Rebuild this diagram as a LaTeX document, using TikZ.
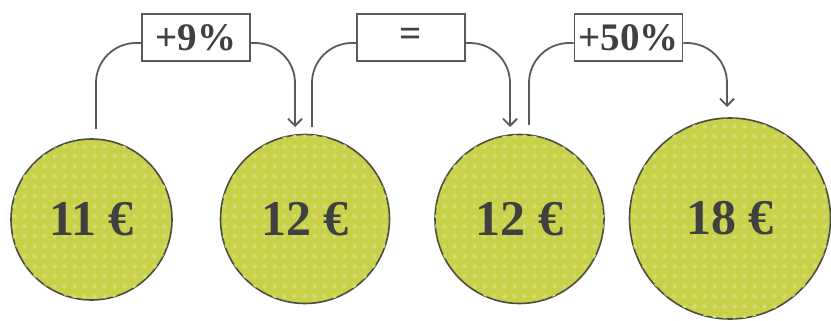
\documentclass[tikz,border=0pt]{standalone}
\usepackage{fontspec}
\setmainfont{Liberation Serif}
\usetikzlibrary{arrows.meta,patterns.meta}
\definecolor{coin}{HTML}{C8D149}
\definecolor{coindot}{HTML}{D4DB70}
\definecolor{coinedge}{HTML}{4B4D42}
\definecolor{ink}{HTML}{404040}
\definecolor{wire}{HTML}{565B60}
\tikzdeclarepattern{
  name=bigdots,
  type=uncolored,
  bounding box={(0pt,0pt) and (10pt,10pt)},
  tile size={(10pt,10pt)},
  code={\fill (5pt,5pt) circle (2.4pt);}
}
\begin{document}
\begin{tikzpicture}[x=1pt,y=-1pt,
  coinnode/.style={circle, draw=coinedge, line width=1.6pt, fill=coin,
    postaction={pattern=bigdots, pattern color=coindot},
    inner sep=0pt, text=ink, font=\fontsize{50}{60}\selectfont\bfseries},
  ratebox/.style={draw=wire, line width=1.6pt, fill=white, minimum width=108pt,
    minimum height=47pt, inner sep=0pt, text=ink, font=\fontsize{39}{44}\selectfont\bfseries},
  link/.style={draw=wire, line width=1.8pt, rounded corners=40pt},
  linkarrow/.style={link, -{Straight Barb[length=7pt,width=14pt,line width=1.8pt]}}
]
\useasboundingbox (0,0) rectangle (831,321);

\node[coinnode, minimum size=161pt] (c1) at (91.5,219.5) {11 €};
\node[coinnode, minimum size=169pt] (c2) at (305,219) {12 €};
\node[coinnode, minimum size=169pt] (c3) at (519.5,219) {12 €};
\node[coinnode, minimum size=201pt] (c4) at (730,218.5) {18 €};

\node[ratebox] (b1) at (196,37.5) {+9\%};
\node[ratebox] (b2) at (411,37.5) {=};
\node[ratebox] (b3) at (628.5,37.5) {+50\%};

\coordinate (s1) at (96,129);
\coordinate (e1) at (295,127);
\coordinate (s2) at (312,127);
\coordinate (e2) at (510,127);
\coordinate (s3) at (529,125);
\coordinate (e3) at (727,107);

\draw[link] (s1) |- ([yshift=-5.5pt]b1.west);
\draw[linkarrow] ([yshift=-5.5pt]b1.east) -| (e1);
\draw[link] (s2) |- ([yshift=-5.5pt]b2.west);
\draw[linkarrow] ([yshift=-5.5pt]b2.east) -| (e2);
\draw[link] (s3) |- ([yshift=-5.5pt]b3.west);
\draw[linkarrow] ([yshift=-5.5pt]b3.east) -| (e3);
\end{tikzpicture}
\end{document}
